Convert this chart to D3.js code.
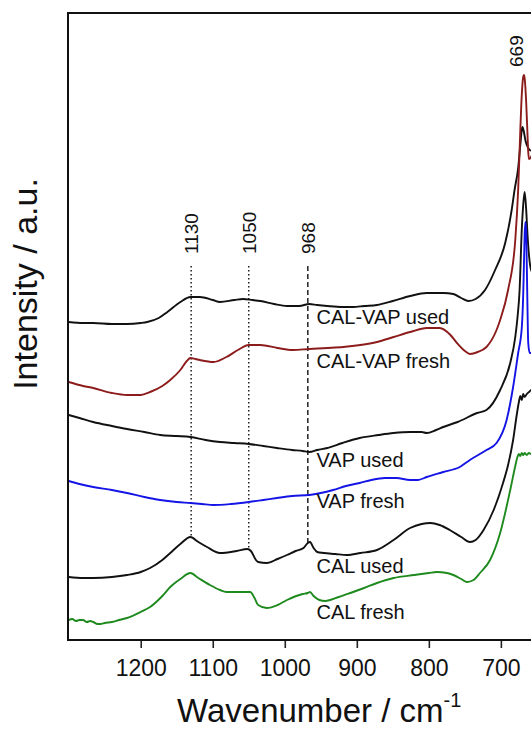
<!DOCTYPE html>
<html>
<head>
<meta charset="utf-8">
<script src="https://cdn.jsdelivr.net/npm/d3@7"></script>
<style>
  body { margin: 0; background: #fff; }
  svg { display: block; font-family: "Liberation Sans", Arial, sans-serif; }
</style>
</head>
<body>
<div id="chart"></div>
<script>
// Raman spectra, [wavenumber cm-1, intensity a.u. (traces offset)]
var calVapUsed = [[1300,318],[1280,317],[1266,317],[1240,316],[1219,316],[1200,317],[1191,318],[1175,322],[1163,328],[1145,338],[1131,343],[1118,343],[1100,340],[1090,338],[1070,340],[1058,341],[1045,340],[1034,339],[1015,336],[997,334],[980,334],[966,336],[955,335],[941,334],[920,333],[905,333],[890,334],[872,335],[850,339],[826,344],[803,347],[780,347],[766,346],[755,342],[745,339],[735,341],[722,350],[708,370],[694,397],[685,430],[681,450],[676,472],[673,495],[671,510],[670,513],[668,508],[666,500],[664,495],[662,492],[660,490],[650,488],[640,487]];
var calVapFresh = [[1300,258],[1280,254],[1266,252],[1240,247],[1219,245],[1200,245],[1187,248],[1170,254],[1159,260],[1145,270],[1136,279],[1131,282],[1124,281],[1118,280],[1099,278],[1081,283],[1065,290],[1050,295],[1034,295],[1010,292],[989,290],[966,291],[940,292],[919,293],[895,295],[872,298],[849,303],[826,308],[803,312],[785,312],[770,305],[761,297],[750,289],[743,286],[732,288],[720,293],[706,310],[701,320],[690,350],[680,400],[676,450],[673,510],[671,545],[669,563],[668,565],[667,562],[665,540],[663,505],[662,488],[661,481],[659,482],[655,488],[650,492],[640,495]];
var vapUsed = [[1300,225],[1285,222],[1266,218],[1240,214],[1219,211],[1195,208],[1173,205],[1150,204],[1131,203],[1110,200],[1090,198],[1070,197],[1050,196],[1030,194],[1011,192],[990,190],[975,189],[966,188],[955,190],[941,192],[920,197],[896,202],[870,205],[849,207],[826,208],[810,208],[803,207],[790,210],[780,213],[760,218],[733,227],[720,230],[701,250],[687,277],[680,303],[677,322],[674,350],[671,410],[669,435],[667,448],[665,432],[663,405],[661,385],[658,370],[650,362],[640,360]];
var vapFresh = [[1300,159],[1285,156],[1266,153],[1240,150],[1219,147],[1195,143],[1173,140],[1150,138],[1131,137],[1115,136],[1099,135],[1075,136],[1050,138],[1030,140],[1011,142],[990,144],[966,145],[950,147],[933,150],[915,154],[896,157],[880,160],[861,162],[845,162],[826,160],[815,160],[803,163],[780,168],[757,173],[743,180],[720,190],[706,197],[692,220],[683,253],[676,287],[671,312],[669,345],[668,375],[667,405],[666,418],[665,410],[664,375],[663,330],[662,297],[660,287],[650,287],[640,287]];
var calUsed = [[1300,63],[1280,62],[1266,62],[1240,63],[1219,65],[1200,68],[1187,72],[1170,80],[1159,87],[1145,96],[1131,103],[1120,98],[1108,93],[1090,87],[1067,89],[1052,91],[1047,89],[1040,80],[1037,78],[1025,77],[1010,81],[997,85],[985,89],[974,92],[968,97],[965,98],[960,92],[955,88],[946,87],[930,86],[914,85],[895,87],[872,90],[849,100],[826,112],[810,116],[798,117],[785,115],[771,110],[755,103],[743,98],[735,100],[724,110],[710,130],[697,157],[690,175],[683,200],[678,225],[675,238],[673,244],[671,240],[669,246],[667,243],[664,246],[661,248],[658,250],[650,252],[640,253]];
var calFresh = [[1300,20],[1295,21],[1290,19],[1285,20],[1280,20],[1275,18],[1270,19],[1266,18],[1260,16],[1256,16],[1250,17],[1240,18],[1230,20],[1219,22],[1200,28],[1187,33],[1170,44],[1159,53],[1145,61],[1131,67],[1120,62],[1104,55],[1090,50],[1081,48],[1060,48],[1048,48],[1042,42],[1037,35],[1025,32],[1010,35],[997,40],[975,46],[968,47],[965,48],[960,44],[952,40],[944,39],[925,43],[909,47],[890,52],[872,57],[849,62],[820,65],[800,67],[789,68],[775,67],[766,65],[755,61],[747,58],[738,60],[729,67],[715,80],[701,107],[687,150],[680,174],[677,183],[675,186],[673,184],[671,187],[669,185],[667,187],[664,185],[661,187],[658,186],[650,186],[640,186]];

var seriesNames = ["CAL-VAP used", "CAL-VAP fresh", "VAP used", "VAP fresh", "CAL used", "CAL fresh"];
var seriesColors = ["#111111", "#8c1c1c", "#111111", "#1414e6", "#111111", "#1e8a1e"];
var labelLevels = [316, 272, 173, 132, 67, 21];   // intensity where each name sits
var labelWn = 956;
var bandPositions = [1130, 1050, 968];
var bandTop = 374;
var peakPosition = 669;
var xTicks = [1200, 1100, 1000, 900, 800, 700];

var allSeries = [calVapUsed, calVapFresh, vapUsed, vapFresh, calUsed, calFresh];

var width = 531, height = 729;
var svg = d3.select("#chart").append("svg")
  .attr("width", width)
  .attr("height", height);

var x = d3.scaleLinear().domain([1300, 600]).range([68.7, 572.9]);
var y = d3.scaleLinear().domain([0, 627]).range([640, 13]);

svg.append("clipPath").attr("id", "plotclip")
  .append("rect")
  .attr("x", 68).attr("y", 13)
  .attr("width", 572.9 - 68).attr("height", 627);

// x axis
var xAxis = svg.append("g")
  .attr("transform", "translate(0,640)")
  .call(d3.axisBottom(x).tickValues(xTicks).tickFormat(d3.format("d"))
    .tickSize(8).tickPadding(12).tickSizeOuter(0));
xAxis.select(".domain").remove();
xAxis.selectAll("line").attr("stroke", "#222").attr("stroke-width", 1.6);
xAxis.selectAll("text")
  .attr("fill", "#111")
  .style("font-size", "23px")
  .style("font-family", "'Liberation Sans', Arial, sans-serif");

// band marker lines, ending on the CAL used trace
function valueAt(data, wn) {
  for (var i = 0; i < data.length - 1; i++) {
    var a = data[i], b = data[i + 1];
    if (wn <= a[0] && wn >= b[0]) {
      var t = (a[0] - wn) / (a[0] - b[0]);
      return a[1] + t * (b[1] - a[1]);
    }
  }
  return data[data.length - 1][1];
}

var plot = svg.append("g").attr("clip-path", "url(#plotclip)");

plot.selectAll(".band")
  .data(bandPositions)
  .enter()
  .append("line")
  .attr("class", "band")
  .attr("x1", function (d) { return x(d); })
  .attr("x2", function (d) { return x(d); })
  .attr("y1", y(bandTop))
  .attr("y2", function (d) { return y(valueAt(calUsed, d)); })
  .attr("stroke", "#111")
  .attr("stroke-width", 1.4)
  .attr("stroke-dasharray", function (d, i) { return i == 2 ? "5,3" : "1.6,2.4"; });

// spectra
var line = d3.line()
  .x(function (d) { return x(d[0]); })
  .y(function (d) { return y(d[1]); })
  .curve(d3.curveMonotoneX);

plot.selectAll(".spectrum")
  .data(allSeries)
  .enter()
  .append("path")
  .attr("class", "spectrum")
  .attr("d", line)
  .attr("fill", "none")
  .attr("stroke", function (d, i) { return seriesColors[i]; })
  .attr("stroke-width", 1.9)
  .attr("stroke-linejoin", "round");

// frame
svg.append("rect")
  .attr("x", 68).attr("y", 13)
  .attr("width", 572.9 - 68).attr("height", 627)
  .attr("fill", "none")
  .attr("stroke", "#111")
  .attr("stroke-width", 2);

// trace names
svg.selectAll(".name")
  .data(seriesNames)
  .enter()
  .append("text")
  .attr("class", "name")
  .attr("x", x(labelWn))
  .attr("y", function (d, i) { return y(labelLevels[i]); })
  .style("font-size", "20px")
  .attr("fill", "#111")
  .text(function (d) { return d; });

// band labels
svg.selectAll(".bandlabel")
  .data(bandPositions)
  .enter()
  .append("text")
  .attr("class", "bandlabel")
  .attr("transform", function (d) { return "translate(" + (x(d) + 7) + "," + (y(bandTop) - 12) + ") rotate(-90)"; })
  .style("font-size", "19px")
  .attr("fill", "#111")
  .text(function (d) { return d; });

svg.append("text")
  .attr("transform", "translate(" + x(peakPosition) + ",67) rotate(-90)")
  .style("font-size", "19px")
  .attr("fill", "#111")
  .text(peakPosition);

// axis titles
var xt = svg.append("text")
  .attr("x", 177)
  .attr("y", 722)
  .style("font-size", "33px")
  .attr("fill", "#111")
  .text("Wavenumber / cm");
xt.append("tspan")
  .attr("dy", -15)
  .style("font-size", "20px")
  .text("-1");

svg.append("text")
  .attr("transform", "translate(37,284) rotate(-90)")
  .attr("text-anchor", "middle")
  .style("font-size", "34px")
  .attr("fill", "#111")
  .text("Intensity / a.u.");
</script>
</body>
</html>
